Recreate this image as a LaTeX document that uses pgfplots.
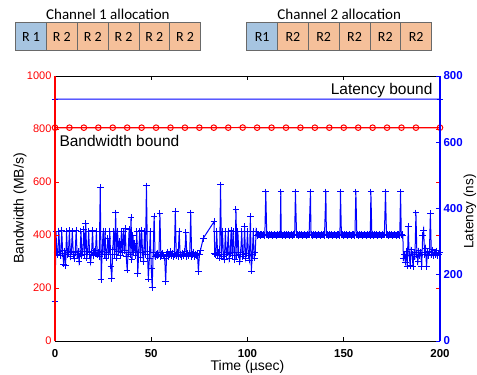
\documentclass[border=0pt]{standalone}
\usepackage{fontspec}
\setmainfont{Liberation Sans}
\newfontfamily\carlito{Carlito}
\usepackage{pgfplots}
\usepackage{pgfplotstable}
\pgfplotsset{compat=1.18}
\definecolor{boxblue}{RGB}{166,196,224}
\definecolor{boxorange}{RGB}{245,192,154}
\definecolor{boxedge}{RGB}{105,105,105}
\definecolor{pblue}{RGB}{0,0,255}
\definecolor{pred}{RGB}{255,0,0}
\pgfplotsset{
  frame/.style={at={(0,0)}, anchor=south west, scale only axis,
    width=385pt, height=265pt, xmin=0, xmax=200, clip=false},
}
\pgfplotstableread[row sep=\\]{
t v \\
0 120 \\ 0.5 330 \\ 1 268 \\ 1.5 262 \\ 2 332 \\ 2.5 270 \\ 3 258 \\ 3.5 335 \\ 4 265 \\ 4.5 232 \\
5 272 \\ 5.5 228 \\ 6 330 \\ 6.5 262 \\ 7 268 \\ 7.5 333 \\ 8 255 \\ 8.5 270 \\ 9 331 \\ 9.5 262 \\
10 248 \\ 10.5 268 \\ 11 334 \\ 11.5 260 \\ 12 270 \\ 12.5 240 \\ 13 265 \\ 13.5 332 \\ 14 258 \\ 14.5 270 \\
15 336 \\ 15.5 262 \\ 16 355 \\ 16.5 250 \\ 17 270 \\ 17.5 330 \\ 18 262 \\ 18.5 238 \\ 19 266 \\ 19.5 333 \\
20 258 \\ 20.5 272 \\ 21 264 \\ 21.5 330 \\ 22 260 \\ 22.5 268 \\ 23 256 \\ 23.5 464 \\ 24 186 \\ 24.5 270 \\
25 332 \\ 25.5 262 \\ 26 330 \\ 26.5 250 \\ 27 268 \\ 27.5 310 \\ 28 262 \\ 28.5 332 \\ 29 226 \\ 29.5 189 \\
30 275 \\ 30.5 330 \\ 31 262 \\ 31.5 387 \\ 32 250 \\ 32.5 332 \\ 33 270 \\ 33.5 300 \\ 34 258 \\ 34.5 331 \\
35 266 \\ 35.5 330 \\ 36 272 \\ 36.5 340 \\ 37 255 \\ 37.5 214 \\ 38 268 \\ 38.5 336 \\ 39 260 \\ 39.5 372 \\
40 245 \\ 40.5 320 \\ 41 268 \\ 41.5 295 \\ 42 258 \\ 42.5 330 \\ 43 204 \\ 43.5 268 \\ 44 330 \\ 44.5 252 \\
45 335 \\ 45.5 266 \\ 46 240 \\ 46.5 332 \\ 47 262 \\ 47.5 468 \\ 48 270 \\ 48.5 187 \\ 49 250 \\ 49.5 330 \\
50 220 \\ 50.5 162 \\ 51 268 \\ 51.5 377 \\ 52 255 \\ 52.5 262 \\ 53 258 \\ 53.5 266 \\ 54 260 \\ 54.5 385 \\
55 256 \\ 55.5 262 \\ 56 266 \\ 56.5 258 \\ 57 250 \\ 57.5 179 \\ 58 262 \\ 58.5 268 \\ 59 256 \\ 59.5 262 \\
60 270 \\ 60.5 258 \\ 61 264 \\ 61.5 255 \\ 62 262 \\ 62.5 392 \\ 63 258 \\ 63.5 268 \\ 64 256 \\ 64.5 332 \\
65 262 \\ 65.5 254 \\ 66 266 \\ 66.5 258 \\ 67 262 \\ 67.5 270 \\ 68 327 \\ 68.5 256 \\ 69 264 \\ 69.5 258 \\
70 266 \\ 70.5 387 \\ 71 255 \\ 71.5 262 \\ 72 268 \\ 72.5 256 \\ 73 262 \\ 73.5 258 \\ 74 264 \\ 74.5 209 \\
75 262 \\ 75.5 272 \\ 77 310 \\ 82.6 360 \\
83 265 \\ 83.5 262 \\ 84 332 \\ 84.5 258 \\ 85 268 \\ 85.5 250 \\ 86 471 \\ 86.5 262 \\ 87 332 \\ 87.5 256 \\
88 245 \\ 88.5 330 \\ 89 262 \\ 89.5 268 \\ 90 332 \\ 90.5 248 \\ 91 264 \\ 91.5 334 \\ 92 258 \\ 92.5 330 \\
93 266 \\ 93.5 245 \\ 94 397 \\ 94.5 258 \\ 95 330 \\ 95.5 262 \\ 96 240 \\ 96.5 268 \\ 97 332 \\ 97.5 254 \\
98 262 \\ 98.5 345 \\ 99 250 \\ 99.5 265 \\ 100 332 \\ 100.5 258 \\ 101 244 \\ 101.5 375 \\ 102 211 \\ 102.5 262 \\
103 332 \\ 103.5 250 \\ 104 268 \\ 104.5 332 \\
105 318 \\ 105.5 321 \\ 106 320 \\ 106.5 322 \\ 107 319 \\ 107.5 321 \\ 108 320 \\ 108.5 322 \\ 109 319 \\ 109.5 450 \\
110 320 \\ 110.5 321 \\ 111 319 \\ 111.5 322 \\ 112 320 \\ 112.5 321 \\ 113 319 \\ 113.5 320 \\ 114 322 \\ 114.5 320 \\
115 319 \\ 115.5 321 \\ 116 320 \\ 116.5 322 \\ 117 320 \\ 117.3 450 \\ 117.5 321 \\ 118 319 \\ 118.5 320 \\ 119 322 \\
119.5 320 \\ 120 319 \\ 120.5 321 \\ 121 320 \\ 121.5 322 \\ 122 319 \\ 122.5 320 \\ 123 321 \\ 123.5 319 \\ 124 322 \\
124.5 320 \\ 124.9 450 \\ 125.5 320 \\ 126 321 \\ 126.5 319 \\ 127 322 \\ 127.5 320 \\ 128 321 \\ 128.5 319 \\ 129 320 \\
129.5 322 \\ 130 320 \\ 130.5 319 \\ 131 321 \\ 131.5 320 \\ 132 322 \\ 132.7 450 \\ 133 320 \\ 133.5 321 \\ 134 319 \\
134.5 322 \\ 135 320 \\ 135.5 321 \\ 136 319 \\ 136.5 320 \\ 137 322 \\ 137.5 320 \\ 138 319 \\ 138.5 321 \\ 139 320 \\
139.5 322 \\ 140 319 \\ 140.7 450 \\ 141 320 \\ 141.5 321 \\ 142 319 \\ 142.5 322 \\ 143 320 \\ 143.5 321 \\ 144 319 \\
144.5 320 \\ 145 322 \\ 145.5 320 \\ 146 319 \\ 146.5 321 \\ 147 320 \\ 147.5 322 \\ 148 319 \\ 148.3 450 \\ 148.8 320 \\
149.3 321 \\ 149.8 319 \\ 150.3 322 \\ 150.8 320 \\ 151.3 321 \\ 151.8 319 \\ 152.3 320 \\ 152.8 322 \\ 153.3 320 \\ 153.8 319 \\
154.3 321 \\ 154.8 320 \\ 155.3 322 \\ 155.8 319 \\ 156.3 450 \\ 156.8 320 \\ 157.3 321 \\ 157.8 319 \\ 158.3 322 \\ 158.8 320 \\
159.3 321 \\ 159.8 319 \\ 160.3 320 \\ 160.8 322 \\ 161.3 320 \\ 161.8 319 \\ 162.3 321 \\ 162.8 320 \\ 163.3 322 \\ 163.8 319 \\
164.1 450 \\ 164.6 320 \\ 165.1 321 \\ 165.6 319 \\ 166.1 322 \\ 166.6 320 \\ 167.1 321 \\ 167.6 319 \\ 168.1 320 \\ 168.6 322 \\
169.1 320 \\ 169.6 319 \\ 170.1 321 \\ 170.6 320 \\ 171.1 322 \\ 171.7 450 \\ 172.2 320 \\ 172.7 321 \\ 173.2 319 \\ 173.7 322 \\
174.2 320 \\ 174.7 321 \\ 175.2 319 \\ 175.7 320 \\ 176.2 322 \\ 176.7 320 \\ 177.2 319 \\ 177.7 321 \\ 178.2 320 \\ 178.7 322 \\
179.1 319 \\ 179.5 450 \\ 179.9 320 \\ 180.3 321 \\ 180.7 319 \\
181 250 \\ 181.5 262 \\ 182 238 \\ 182.5 270 \\ 183 226 \\ 183.5 345 \\ 184 258 \\ 184.5 228 \\ 185 275 \\ 185.5 262 \\
186 224 \\ 186.5 268 \\ 187 256 \\ 187.5 387 \\ 188 262 \\ 188.5 240 \\ 189 272 \\ 189.5 258 \\ 190 268 \\ 190.5 224 \\
191 318 \\ 191.5 335 \\ 192 262 \\ 192.5 280 \\ 193 224 \\ 193.5 270 \\ 194 258 \\ 194.5 266 \\ 195 385 \\ 195.5 262 \\
196 275 \\ 196.5 258 \\ 197 268 \\ 197.5 262 \\ 198 272 \\ 198.5 258 \\ 199 266 \\ 199.5 262 \\ 200 268 \\
}\latency

\begin{document}
\begin{tikzpicture}[x=1pt,y=1pt]
\useasboundingbox (-55,-34) rectangle (422,341);
% ---------- data, bandwidth scale ----------
\begin{axis}[frame, ymin=0, ymax=1000, hide axis]
\addplot[pred, line width=1.2pt, mark=o, mark size=2.8pt,
  mark options={pred, fill=none, line width=1pt}]
coordinates {(0,805)(7.5,805)(15,805)(22.5,805)(30,805)(37.5,805)(45,805)(52.5,805)(60,805)(67.5,805)(75,805)(82.5,805)(90,805)(97.5,805.4)(105,805)(112.5,805)(120,805)(127.5,805)(135,805)(142.5,805)(150,805)(157.5,805)(165,805)(172.5,805)(180,805)(187.5,805)(200,805)};
\end{axis}
% ---------- data, latency scale ----------
\begin{axis}[frame, ymin=0, ymax=800, hide axis]
\addplot[pblue, line width=1pt, mark=+, mark size=3.2pt, mark indices={1,3},
  mark options={pblue, line width=1pt}]
coordinates {(0,730)(100,730.4)(200,730)};
\addplot[pblue, line width=1pt, mark=+, mark size=3.3pt,
  mark options={pblue, line width=1pt}] table[x=t,y=v] {\latency};
\end{axis}
% ---------- left axis decorations: bandwidth ----------
\begin{axis}[
  frame, ymin=0, ymax=1000,
  separate axis lines,
  x axis line style={black,line width=0.9pt},
  y axis line style={pred,line width=1.2pt},
  xtick={0,50,100,150,200}, ytick={0,200,400,600,800,1000},
  xtick style={black,line width=0.6pt}, ytick style={pred,line width=0.6pt},
  tick align=inside, major tick length=4pt,
  /pgf/number format/assume math mode=true,
  /pgf/number format/1000 sep={},
  yticklabel style={pred,font=\fontsize{11}{11}\selectfont},
  xticklabel style={font=\bfseries\fontsize{11.5}{11.5}\selectfont, yshift=-5pt},
  xlabel={Time (µsec)}, ylabel={Bandwidth (MB/s)},
  label style={font=\fontsize{14}{14}\selectfont},
  xlabel style={at={(axis description cs:0.5,-0.096)}, anchor=center},
  ylabel style={at={(axis description cs:-0.0909,0.5)}, anchor=center},
]
\end{axis}
% ---------- right axis decorations: latency ----------
\begin{axis}[
  frame, ymin=0, ymax=800,
  axis y line*=right, axis x line=none,
  y axis line style={pblue,line width=1.2pt},
  ytick={0,200,400,600,800},
  ytick style={pblue,line width=0.6pt},
  tick align=inside, major tick length=4pt,
  /pgf/number format/assume math mode=true,
  yticklabel style={pblue,font=\bfseries\fontsize{11.5}{11.5}\selectfont},
  ylabel={Latency (ns)},
  label style={font=\fontsize{13.5}{13.5}\selectfont},
  ylabel style={at={(axis description cs:1.0779,0.4887)}, anchor=center},
]
\end{axis}
% ---------- annotations ----------
\node[anchor=base east, inner sep=0pt, font=\fontsize{15.5}{15.5}\selectfont] at (377.7,246) {Latency bound};
\node[anchor=base west, inner sep=0pt, font=\fontsize{15.5}{15.5}\selectfont] at (4.3,194.2) {Bandwidth bound};
% ---------- channel allocation boxes ----------
\foreach \i/\lab/\col in {0/R 1/boxblue,1/R 2/boxorange,2/R 2/boxorange,3/R 2/boxorange,4/R 2/boxorange,5/R 2/boxorange}{
  \draw[boxedge, line width=0.7pt, fill=\col] (-39.3+30.8*\i,290.3) rectangle ++(30.8,28);
  \node[font=\carlito\fontsize{14}{14}\selectfont, inner sep=0pt] at (-39.3+30.8*\i+15.4,304.3) {\lab};
}
\foreach \i/\lab/\col in {0/R1/boxblue,1/R2/boxorange,2/R2/boxorange,3/R2/boxorange,4/R2/boxorange,5/R2/boxorange}{
  \draw[boxedge, line width=0.7pt, fill=\col] (191.7+30.8*\i,290.3) rectangle ++(30.8,28);
  \node[font=\carlito\fontsize{14}{14}\selectfont, inner sep=0pt] at (191.7+30.8*\i+15.4,304.3) {\lab};
}
\node[anchor=base, inner sep=0pt, font=\carlito\fontsize{15}{15}\selectfont] at (52.9,321) {Channel 1 allocation};
\node[anchor=base, inner sep=0pt, font=\carlito\fontsize{15}{15}\selectfont] at (284.2,321) {Channel 2 allocation};
\end{tikzpicture}
\end{document}
